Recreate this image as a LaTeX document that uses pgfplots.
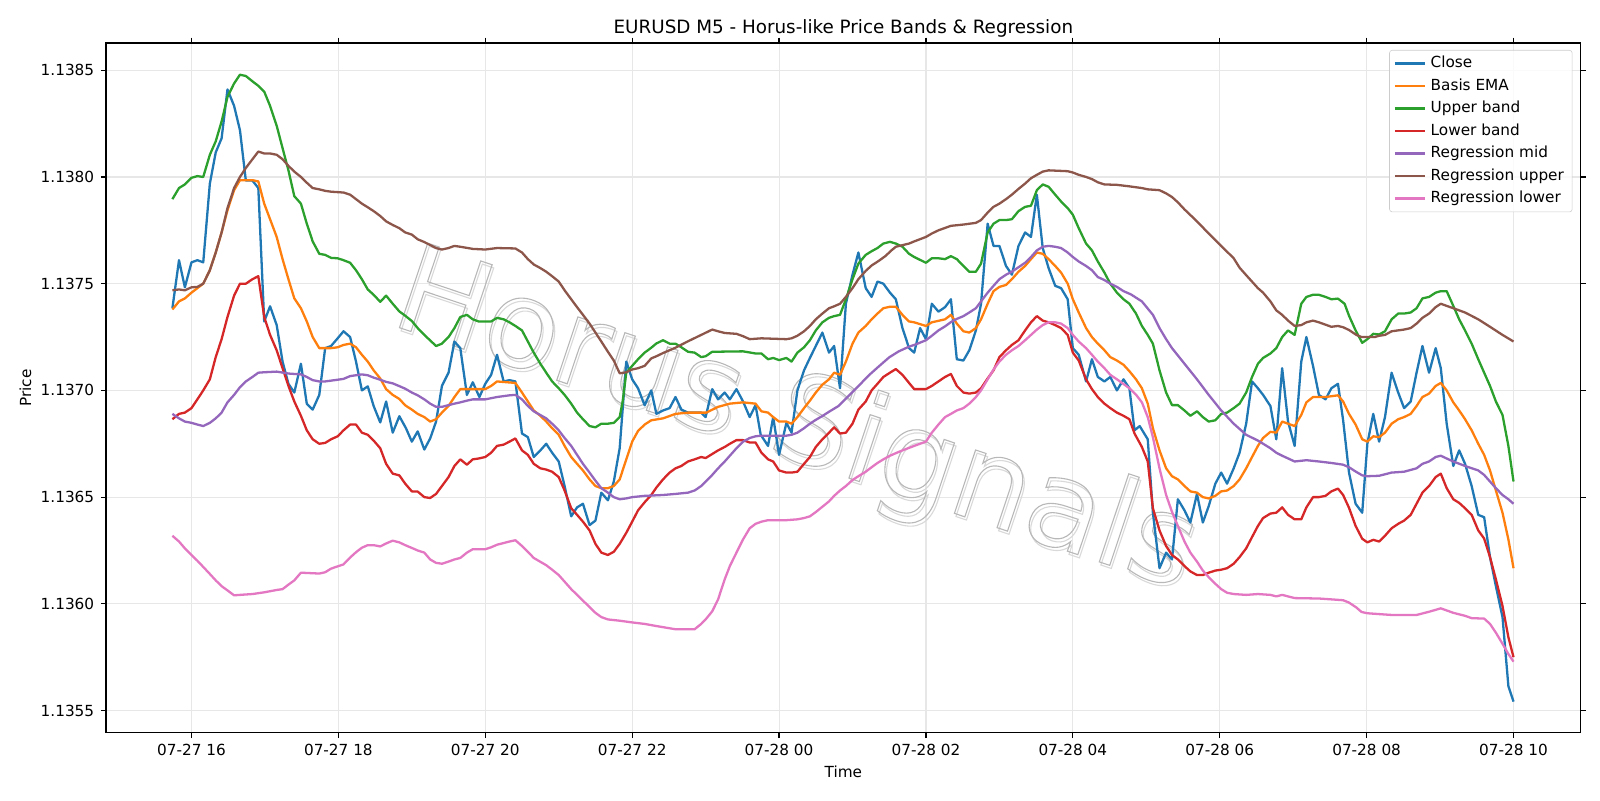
\documentclass[border=0pt]{standalone}
\usepackage{pgfplots}
\pgfplotsset{compat=1.18}
\usepackage{fontspec}
\setmainfont{DejaVu Sans}
\definecolor{c0}{HTML}{1F77B4}
\definecolor{c1}{HTML}{FF7F0E}
\definecolor{c2}{HTML}{2CA02C}
\definecolor{c3}{HTML}{D62728}
\definecolor{c4}{HTML}{9467BD}
\definecolor{c5}{HTML}{8C564B}
\definecolor{c6}{HTML}{E377C2}
\definecolor{gridc}{RGB}{231,231,231}
\definecolor{legc}{RGB}{204,204,204}
\definecolor{wm}{RGB}{185,185,185}
\definecolor{wms}{RGB}{218,218,218}
\newcommand\outl[2]{\special{pdf:literal direct 1 Tr 0.8 w #1 G}#2\special{pdf:literal direct 0 Tr 0 G}}
\begin{document}
\begin{tikzpicture}
\useasboundingbox (-76.4pt,-48.5pt) rectangle (1075.6pt,527.6pt);
\begin{axis}[
  scale only axis, width=1061.6pt, height=496.7pt,
  at={(0,0)}, anchor=south west,
  xmin=14.8375, xmax=34.9125, ymin=53.96, ymax=86.28,
  xtick={16,18,20,22,24,26,28,30,32,34},
  xticklabels={07-27 16,07-27 18,07-27 20,07-27 22,07-28 00,07-28 02,07-28 04,07-28 06,07-28 08,07-28 10},
  ytick={55,60,65,70,75,80,85},
  yticklabels={1.1355,1.1360,1.1365,1.1370,1.1375,1.1380,1.1385},
  tick label style={font=\fontsize{11}{13}\selectfont},
  xticklabel style={yshift=-0.8pt},
  yticklabel style={xshift=-1.2pt},
  tick align=outside, major tick length=3.85pt,
  tick style={black, line width=0.88pt},
  axis line style={line width=0.88pt},
  grid=major, major grid style={gridc, line width=0.8pt},
  title={EURUSD M5 - Horus-like Price Bands \& Regression},
  title style={font=\fontsize{13.2}{15}\selectfont, at={(rel axis cs:0.5,1)}, anchor=center, yshift=4.5pt},
  xlabel={Time}, ylabel={Price},
  label style={font=\fontsize{11}{13}\selectfont},
  xlabel style={at={(rel axis cs:0.5,0)}, anchor=center, yshift=-27.9pt},
  ylabel style={at={(rel axis cs:0,0.5)}, anchor=center, yshift=58pt},
  legend style={at={(1,1)}, anchor=north east, xshift=-5.8pt, yshift=-5.1pt,
    draw=legc, rounded corners=2pt, fill=white, fill opacity=0.8, text opacity=1,
    font=\fontsize{11}{13}\selectfont, inner xsep=3pt, inner ysep=1.5pt,
    nodes={inner ysep=2.75pt, inner xsep=3pt, text height=8.2pt, text depth=2.5pt}},
  legend cell align=left,
  legend image code/.code={\draw[#1] (0pt,0pt) -- (22pt,0pt);},
  every axis plot/.append style={line width=1.65pt, line join=round, no markers},
]
\node[rotate=-18.5, text=wms, font=\fontsize{88}{88}\selectfont, xshift=1.8pt, yshift=-1.8pt] at (axis cs:24.22,68.4) {\outl{0.85}{Horus Signals}};
\node[rotate=-18.5, text=wm, font=\fontsize{88}{88}\selectfont] at (axis cs:24.22,68.4) {\outl{0.72}{Horus Signals}};

\addplot[c0] coordinates {(15.74,73.85)(15.83,76.1)(15.91,74.83)(16.0,76.0)(16.08,76.1)(16.16,76.0)(16.25,79.69)(16.33,81.15)(16.41,81.81)(16.49,84.1)(16.58,83.33)(16.66,82.19)(16.74,79.83)(16.83,79.83)(16.91,79.48)(16.99,73.23)(17.07,73.94)(17.16,73.06)(17.24,71.35)(17.32,70.31)(17.4,69.9)(17.49,71.25)(17.57,69.37)(17.65,69.1)(17.74,69.79)(17.82,71.98)(17.9,72.08)(17.99,72.44)(18.07,72.77)(18.16,72.5)(18.24,71.35)(18.32,70.0)(18.4,70.19)(18.48,69.27)(18.57,68.5)(18.65,69.48)(18.74,68.02)(18.83,68.79)(18.92,68.23)(19.0,67.6)(19.08,68.08)(19.17,67.23)(19.25,67.75)(19.33,68.54)(19.41,70.21)(19.5,70.83)(19.58,72.29)(19.66,71.98)(19.75,69.79)(19.83,70.38)(19.92,69.69)(20.0,70.31)(20.08,70.73)(20.16,71.67)(20.25,70.42)(20.33,70.48)(20.41,70.42)(20.5,67.98)(20.58,67.81)(20.66,66.88)(20.75,67.19)(20.83,67.5)(20.91,67.08)(21.0,66.67)(21.08,65.52)(21.17,64.1)(21.25,64.52)(21.33,64.69)(21.42,63.69)(21.5,63.9)(21.58,65.21)(21.67,64.85)(21.75,65.73)(21.83,67.29)(21.92,71.35)(22.0,70.52)(22.08,70.1)(22.17,69.3)(22.26,70.0)(22.33,68.9)(22.42,69.06)(22.51,69.17)(22.59,69.69)(22.67,69.1)(22.76,68.96)(22.85,68.96)(22.94,68.96)(23.0,68.75)(23.09,70.06)(23.17,69.58)(23.26,69.9)(23.33,69.58)(23.42,70.06)(23.51,69.48)(23.6,68.75)(23.68,69.31)(23.75,67.92)(23.85,67.4)(23.92,68.75)(24.0,66.98)(24.1,68.48)(24.17,68.02)(24.25,70.0)(24.34,70.94)(24.42,71.52)(24.5,72.08)(24.59,72.71)(24.68,71.77)(24.75,72.08)(24.83,70.1)(24.91,74.06)(25.0,75.42)(25.08,76.46)(25.18,74.79)(25.26,74.38)(25.34,75.1)(25.42,75.0)(25.51,74.58)(25.59,74.27)(25.68,72.92)(25.77,71.98)(25.84,71.77)(25.92,72.92)(26.0,72.4)(26.08,74.06)(26.17,73.69)(26.26,73.9)(26.34,74.27)(26.42,71.46)(26.51,71.4)(26.59,71.88)(26.68,72.81)(26.75,74.06)(26.84,77.81)(26.92,76.77)(27.0,76.77)(27.09,75.83)(27.17,75.42)(27.26,76.77)(27.35,77.4)(27.43,77.19)(27.51,79.17)(27.59,76.67)(27.67,75.73)(27.76,74.9)(27.84,74.79)(27.93,74.27)(28.0,71.98)(28.08,71.67)(28.18,70.42)(28.26,71.46)(28.34,70.63)(28.43,70.42)(28.51,70.63)(28.6,70.0)(28.69,70.52)(28.77,70.1)(28.84,68.13)(28.91,68.33)(29.02,67.71)(29.09,64.27)(29.18,61.67)(29.27,62.4)(29.35,62.08)(29.43,64.9)(29.52,64.38)(29.6,63.81)(29.69,65.15)(29.77,63.81)(29.85,64.58)(29.94,65.63)(30.02,66.15)(30.1,65.63)(30.19,66.35)(30.27,67.08)(30.36,68.44)(30.44,70.42)(30.52,70.1)(30.59,69.79)(30.69,69.27)(30.77,67.71)(30.85,71.04)(30.93,68.54)(31.02,67.4)(31.11,71.35)(31.18,72.5)(31.27,71.15)(31.35,69.79)(31.44,69.58)(31.52,70.1)(31.61,70.31)(31.68,68.6)(31.76,66.15)(31.85,64.69)(31.94,64.27)(32.01,67.5)(32.09,68.9)(32.17,67.6)(32.25,68.75)(32.34,70.83)(32.43,69.9)(32.51,69.17)(32.6,69.48)(32.68,70.83)(32.76,72.08)(32.85,70.83)(32.94,71.98)(33.01,71.04)(33.09,68.44)(33.18,66.46)(33.26,67.19)(33.34,66.56)(33.43,65.52)(33.52,64.17)(33.6,64.06)(33.68,62.19)(33.76,60.83)(33.85,59.38)(33.93,56.15)(34.0,55.42)};
\addlegendentry{Close}

\addplot[c1] coordinates {(15.74,73.79)(15.83,74.17)(15.91,74.31)(16.0,74.58)(16.08,74.79)(16.16,75.0)(16.25,75.63)(16.33,76.46)(16.41,77.4)(16.49,78.44)(16.58,79.38)(16.66,79.85)(16.74,79.85)(16.83,79.85)(16.91,79.79)(16.99,78.75)(17.07,78.02)(17.16,77.19)(17.24,76.15)(17.32,75.21)(17.4,74.31)(17.49,73.85)(17.57,73.23)(17.65,72.5)(17.74,71.98)(17.82,71.98)(17.9,71.98)(17.99,72.02)(18.07,72.13)(18.16,72.19)(18.24,72.02)(18.32,71.67)(18.4,71.35)(18.48,70.94)(18.57,70.56)(18.65,70.06)(18.74,69.79)(18.83,69.6)(18.91,69.3)(19.0,69.1)(19.08,68.9)(19.17,68.75)(19.25,68.54)(19.33,68.65)(19.41,68.96)(19.5,69.27)(19.58,69.69)(19.66,70.06)(19.75,70.06)(20.0,70.06)(20.08,70.21)(20.16,70.42)(20.41,70.35)(20.5,69.9)(20.58,69.48)(20.66,69.06)(20.75,68.81)(20.83,68.54)(20.91,68.23)(21.0,67.92)(21.08,67.4)(21.17,66.88)(21.25,66.56)(21.33,66.25)(21.42,65.83)(21.5,65.52)(21.58,65.42)(21.67,65.42)(21.75,65.52)(21.83,65.83)(21.92,66.77)(22.0,67.6)(22.08,68.1)(22.17,68.4)(22.26,68.6)(22.42,68.69)(22.59,68.9)(22.76,68.96)(23.01,68.96)(23.17,69.23)(23.33,69.38)(23.51,69.44)(23.68,69.38)(23.76,69.02)(23.85,68.96)(23.92,68.75)(24.0,68.54)(24.1,68.54)(24.17,68.44)(24.25,68.75)(24.34,69.17)(24.42,69.52)(24.5,69.9)(24.59,70.27)(24.68,70.52)(24.75,70.83)(24.83,70.73)(24.91,71.35)(25.0,72.19)(25.08,72.71)(25.18,73.02)(25.26,73.33)(25.34,73.6)(25.42,73.85)(25.51,73.92)(25.59,73.92)(25.68,73.54)(25.77,73.23)(25.84,73.19)(26.0,73.02)(26.08,73.19)(26.26,73.33)(26.34,73.54)(26.42,73.13)(26.51,72.77)(26.59,72.71)(26.68,72.92)(26.75,73.33)(26.84,74.06)(26.92,74.65)(27.0,74.85)(27.09,74.94)(27.17,75.21)(27.26,75.56)(27.35,75.83)(27.43,76.15)(27.51,76.46)(27.59,76.4)(27.67,76.15)(27.76,75.83)(27.84,75.52)(27.93,75.0)(28.0,74.27)(28.08,73.65)(28.18,72.92)(28.26,72.5)(28.34,72.19)(28.43,71.88)(28.51,71.56)(28.6,71.4)(28.69,71.2)(28.77,70.9)(28.86,70.52)(28.94,70.1)(29.02,69.38)(29.09,68.23)(29.18,67.19)(29.27,66.35)(29.35,65.98)(29.43,65.83)(29.52,65.52)(29.6,65.27)(29.69,65.21)(29.77,65.0)(29.85,64.94)(29.94,65.06)(30.02,65.27)(30.1,65.31)(30.19,65.52)(30.27,65.83)(30.36,66.35)(30.44,66.88)(30.52,67.4)(30.59,67.77)(30.69,68.06)(30.77,68.02)(30.85,68.54)(30.93,68.44)(31.02,68.33)(31.11,68.85)(31.18,69.44)(31.27,69.69)(31.44,69.69)(31.61,69.77)(31.68,69.48)(31.76,68.9)(31.85,68.4)(31.94,67.71)(32.01,67.6)(32.09,67.85)(32.17,67.81)(32.25,68.02)(32.34,68.44)(32.43,68.65)(32.51,68.75)(32.6,68.9)(32.68,69.27)(32.76,69.69)(32.85,69.85)(32.94,70.21)(33.01,70.35)(33.09,70.0)(33.18,69.44)(33.26,69.06)(33.34,68.65)(33.43,68.13)(33.52,67.5)(33.6,66.98)(33.68,66.25)(33.76,65.31)(33.85,64.27)(33.93,63.02)(34.0,61.67)};
\addlegendentry{Basis EMA}

\addplot[c2] coordinates {(15.74,78.96)(15.83,79.48)(15.91,79.65)(16.0,79.96)(16.08,80.04)(16.16,80.0)(16.25,81.04)(16.33,81.67)(16.41,82.6)(16.49,83.75)(16.58,84.38)(16.66,84.79)(16.74,84.73)(16.83,84.48)(16.91,84.27)(16.99,84.0)(17.07,83.33)(17.16,82.4)(17.24,81.35)(17.32,80.31)(17.4,79.1)(17.49,78.75)(17.57,77.81)(17.65,76.98)(17.74,76.4)(17.82,76.35)(17.9,76.21)(17.99,76.19)(18.07,76.1)(18.16,75.98)(18.24,75.63)(18.32,75.21)(18.4,74.73)(18.48,74.48)(18.57,74.15)(18.65,74.44)(18.74,74.06)(18.83,73.7)(18.91,73.5)(19.0,73.25)(19.08,72.92)(19.17,72.6)(19.33,72.08)(19.41,72.19)(19.5,72.5)(19.58,72.92)(19.66,73.44)(19.75,73.54)(19.83,73.33)(19.91,73.23)(20.08,73.23)(20.16,73.4)(20.25,73.33)(20.33,73.19)(20.41,73.02)(20.5,72.81)(20.58,72.29)(20.66,71.77)(20.75,71.25)(20.83,70.83)(20.91,70.42)(21.0,70.1)(21.08,69.79)(21.17,69.38)(21.25,68.96)(21.33,68.65)(21.42,68.33)(21.5,68.27)(21.58,68.44)(21.67,68.44)(21.75,68.48)(21.83,68.75)(21.87,69.48)(21.92,70.83)(22.0,71.15)(22.08,71.46)(22.17,71.77)(22.26,72.0)(22.33,72.2)(22.42,72.35)(22.51,72.19)(22.59,72.19)(22.67,72.02)(22.76,71.81)(22.85,71.77)(22.94,71.56)(23.0,71.6)(23.09,71.81)(23.51,71.83)(23.68,71.73)(23.76,71.73)(23.85,71.46)(23.92,71.52)(24.0,71.42)(24.1,71.52)(24.17,71.35)(24.25,71.77)(24.34,72.02)(24.42,72.35)(24.5,72.81)(24.59,73.19)(24.68,73.4)(24.75,73.48)(24.83,73.54)(24.91,74.27)(25.0,75.21)(25.08,75.94)(25.18,76.35)(25.26,76.52)(25.34,76.67)(25.42,76.88)(25.51,76.96)(25.59,76.88)(25.68,76.73)(25.77,76.4)(25.84,76.25)(26.0,75.98)(26.08,76.19)(26.17,76.19)(26.26,76.15)(26.34,76.29)(26.42,76.15)(26.51,75.83)(26.59,75.56)(26.68,75.56)(26.75,75.94)(26.84,77.4)(26.92,77.81)(27.0,77.98)(27.09,77.98)(27.17,78.02)(27.26,78.4)(27.35,78.6)(27.43,78.65)(27.51,79.38)(27.59,79.65)(27.67,79.54)(27.76,79.17)(27.84,78.85)(27.93,78.54)(28.0,78.23)(28.08,77.6)(28.18,76.88)(28.26,76.56)(28.34,76.04)(28.43,75.52)(28.51,75.0)(28.6,74.58)(28.69,74.27)(28.77,74.06)(28.86,73.6)(28.94,73.02)(29.02,72.6)(29.09,72.19)(29.18,70.94)(29.27,69.9)(29.35,69.31)(29.43,69.31)(29.52,69.06)(29.6,68.81)(29.69,69.02)(29.77,68.75)(29.85,68.54)(29.94,68.6)(30.02,68.9)(30.1,68.96)(30.19,69.17)(30.27,69.38)(30.36,69.9)(30.44,70.63)(30.52,71.25)(30.59,71.52)(30.69,71.73)(30.77,71.98)(30.85,72.5)(30.93,72.81)(31.02,72.6)(31.11,74.06)(31.18,74.38)(31.27,74.48)(31.35,74.48)(31.44,74.38)(31.52,74.27)(31.61,74.3)(31.7,74.06)(31.76,73.5)(31.85,72.81)(31.94,72.23)(32.01,72.4)(32.09,72.65)(32.17,72.62)(32.25,72.77)(32.34,73.33)(32.43,73.6)(32.51,73.6)(32.6,73.65)(32.68,73.85)(32.76,74.31)(32.85,74.38)(32.94,74.58)(33.01,74.65)(33.09,74.65)(33.18,73.96)(33.26,73.33)(33.34,72.81)(33.43,72.19)(33.52,71.46)(33.6,70.83)(33.68,70.21)(33.76,69.48)(33.85,68.85)(33.93,67.4)(34.0,65.73)};
\addlegendentry{Upper band}

\addplot[c3] coordinates {(15.74,68.65)(15.83,68.9)(15.91,68.96)(16.0,69.17)(16.08,69.58)(16.16,70.0)(16.25,70.52)(16.33,71.56)(16.41,72.4)(16.49,73.44)(16.58,74.44)(16.66,75.0)(16.74,75.0)(16.83,75.21)(16.91,75.35)(16.99,73.44)(17.07,72.6)(17.16,71.88)(17.24,71.04)(17.32,70.21)(17.4,69.48)(17.49,68.81)(17.57,68.13)(17.65,67.71)(17.74,67.5)(17.82,67.54)(17.9,67.71)(17.99,67.85)(18.07,68.13)(18.16,68.4)(18.24,68.4)(18.32,68.02)(18.4,67.92)(18.48,67.65)(18.57,67.29)(18.65,66.56)(18.74,66.1)(18.83,66.02)(18.91,65.63)(19.0,65.27)(19.08,65.26)(19.17,65.0)(19.25,64.96)(19.33,65.15)(19.41,65.52)(19.5,65.94)(19.58,66.46)(19.66,66.77)(19.75,66.52)(19.83,66.77)(19.91,66.81)(20.0,66.88)(20.08,67.08)(20.16,67.4)(20.25,67.46)(20.33,67.6)(20.41,67.75)(20.5,67.19)(20.58,66.98)(20.66,66.56)(20.75,66.35)(20.83,66.29)(20.91,66.19)(21.0,65.94)(21.08,65.31)(21.17,64.48)(21.25,64.17)(21.33,63.85)(21.42,63.44)(21.5,62.81)(21.58,62.4)(21.67,62.29)(21.75,62.44)(21.83,62.81)(21.92,63.33)(22.0,63.85)(22.08,64.38)(22.17,64.76)(22.26,65.1)(22.33,65.45)(22.42,65.83)(22.51,66.15)(22.59,66.35)(22.67,66.46)(22.76,66.67)(22.85,66.77)(22.94,66.88)(23.0,66.83)(23.09,67.02)(23.17,67.19)(23.26,67.35)(23.33,67.5)(23.42,67.67)(23.51,67.67)(23.6,67.56)(23.68,67.56)(23.76,67.08)(23.85,66.77)(23.92,66.67)(24.0,66.25)(24.1,66.15)(24.17,66.15)(24.25,66.19)(24.34,66.56)(24.42,66.88)(24.5,67.35)(24.59,67.71)(24.68,68.02)(24.75,68.27)(24.83,67.98)(24.91,68.02)(25.0,68.44)(25.08,69.1)(25.18,69.48)(25.26,70.0)(25.34,70.31)(25.42,70.63)(25.51,70.83)(25.59,71.0)(25.68,70.73)(25.77,70.35)(25.84,70.06)(26.0,70.06)(26.08,70.21)(26.17,70.42)(26.26,70.63)(26.34,70.77)(26.42,70.21)(26.51,69.9)(26.59,69.85)(26.68,69.9)(26.75,70.1)(26.84,70.56)(26.92,70.94)(27.0,71.56)(27.09,71.88)(27.17,72.13)(27.26,72.35)(27.35,72.81)(27.43,73.19)(27.51,73.48)(27.59,73.27)(27.67,73.19)(27.76,73.06)(27.84,72.92)(27.93,72.6)(28.0,71.77)(28.08,71.4)(28.18,70.52)(28.26,70.06)(28.34,69.69)(28.43,69.38)(28.51,69.17)(28.6,68.96)(28.69,68.81)(28.77,68.65)(28.84,67.98)(28.94,67.35)(29.02,66.67)(29.09,64.48)(29.18,63.44)(29.27,62.71)(29.35,62.29)(29.43,62.08)(29.52,61.77)(29.6,61.52)(29.69,61.35)(29.77,61.35)(29.85,61.46)(29.94,61.56)(30.02,61.6)(30.1,61.67)(30.19,61.88)(30.27,62.19)(30.36,62.6)(30.44,63.13)(30.52,63.65)(30.59,64.02)(30.69,64.23)(30.77,64.27)(30.85,64.52)(30.93,64.17)(31.02,63.96)(31.11,63.96)(31.18,64.52)(31.27,65.0)(31.35,65.0)(31.44,65.06)(31.52,65.27)(31.61,65.4)(31.68,65.1)(31.76,64.5)(31.85,63.65)(31.94,63.05)(32.01,62.88)(32.09,63.0)(32.17,62.92)(32.25,63.19)(32.34,63.54)(32.43,63.75)(32.51,63.9)(32.6,64.17)(32.68,64.69)(32.76,65.21)(32.85,65.52)(32.94,65.94)(33.01,66.1)(33.09,65.42)(33.18,64.9)(33.26,64.73)(33.34,64.48)(33.43,64.17)(33.52,63.44)(33.6,63.06)(33.68,62.19)(33.76,61.15)(33.85,59.9)(33.93,58.44)(34.0,57.5)};
\addlegendentry{Lower band}

\addplot[c4] coordinates {(15.74,68.9)(15.83,68.69)(15.91,68.54)(16.0,68.48)(16.08,68.4)(16.16,68.33)(16.25,68.48)(16.33,68.69)(16.41,68.96)(16.49,69.44)(16.58,69.79)(16.66,70.15)(16.74,70.42)(16.83,70.63)(16.91,70.83)(16.99,70.85)(17.16,70.88)(17.32,70.79)(17.49,70.75)(17.57,70.63)(17.65,70.48)(17.74,70.42)(17.82,70.42)(17.99,70.5)(18.07,70.54)(18.16,70.67)(18.32,70.75)(18.4,70.71)(18.48,70.6)(18.57,70.5)(18.65,70.4)(18.74,70.33)(18.83,70.2)(18.91,70.08)(19.0,69.9)(19.08,69.77)(19.17,69.58)(19.25,69.38)(19.33,69.23)(19.41,69.23)(19.5,69.31)(19.58,69.38)(19.66,69.44)(19.75,69.52)(19.83,69.58)(20.0,69.58)(20.16,69.69)(20.33,69.77)(20.41,69.79)(20.5,69.58)(20.58,69.27)(20.66,69.02)(20.83,68.69)(20.91,68.44)(21.0,68.13)(21.08,67.77)(21.17,67.4)(21.25,66.98)(21.33,66.56)(21.42,66.15)(21.5,65.77)(21.58,65.42)(21.67,65.21)(21.75,65.0)(21.83,64.9)(21.92,64.94)(22.0,65.0)(22.17,65.06)(22.42,65.1)(22.59,65.15)(22.76,65.21)(22.85,65.31)(22.94,65.52)(23.0,65.73)(23.09,66.04)(23.17,66.35)(23.26,66.67)(23.33,66.94)(23.42,67.29)(23.51,67.6)(23.6,67.77)(23.68,67.85)(23.76,67.88)(24.1,67.88)(24.17,67.92)(24.25,68.02)(24.34,68.23)(24.42,68.44)(24.5,68.62)(24.59,68.8)(24.68,69.0)(24.81,69.27)(24.95,69.75)(25.08,70.2)(25.22,70.7)(25.36,71.13)(25.5,71.55)(25.63,71.83)(25.77,72.05)(25.85,72.14)(26.0,72.35)(26.08,72.56)(26.17,72.81)(26.26,73.0)(26.34,73.2)(26.42,73.35)(26.51,73.48)(26.59,73.65)(26.68,73.85)(26.75,74.17)(26.84,74.58)(26.92,74.9)(27.0,75.21)(27.09,75.42)(27.17,75.56)(27.26,75.77)(27.35,75.98)(27.43,76.25)(27.51,76.56)(27.59,76.73)(27.67,76.77)(27.76,76.73)(27.84,76.67)(27.93,76.46)(28.0,76.25)(28.08,76.04)(28.18,75.83)(28.26,75.63)(28.34,75.31)(28.43,75.17)(28.51,75.0)(28.6,74.85)(28.69,74.65)(28.79,74.5)(28.94,74.17)(29.09,73.54)(29.18,72.92)(29.27,72.4)(29.35,71.98)(29.52,71.25)(29.69,70.52)(29.85,69.79)(30.02,69.06)(30.19,68.44)(30.36,67.92)(30.52,67.65)(30.69,67.29)(30.77,67.08)(30.85,66.94)(31.02,66.67)(31.18,66.73)(31.35,66.67)(31.52,66.6)(31.68,66.52)(31.76,66.4)(31.85,66.2)(31.94,66.02)(32.01,65.98)(32.17,66.0)(32.34,66.15)(32.51,66.19)(32.68,66.35)(32.76,66.56)(32.85,66.67)(32.94,66.88)(33.01,66.94)(33.09,66.81)(33.18,66.67)(33.34,66.46)(33.52,66.25)(33.6,66.04)(33.68,65.73)(33.76,65.42)(33.85,65.1)(33.93,64.9)(34.0,64.69)};
\addlegendentry{Regression mid}

\addplot[c5] coordinates {(15.74,74.69)(15.83,74.73)(15.91,74.69)(16.0,74.83)(16.08,74.85)(16.16,75.0)(16.25,75.63)(16.33,76.46)(16.41,77.4)(16.49,78.54)(16.58,79.48)(16.66,80.0)(16.74,80.42)(16.83,80.83)(16.91,81.19)(16.99,81.1)(17.07,81.1)(17.16,81.04)(17.24,80.83)(17.32,80.52)(17.4,80.25)(17.49,80.0)(17.57,79.73)(17.65,79.48)(17.74,79.42)(17.82,79.35)(17.9,79.31)(18.07,79.27)(18.16,79.17)(18.24,78.96)(18.32,78.75)(18.4,78.58)(18.48,78.4)(18.57,78.17)(18.65,77.92)(18.74,77.75)(18.83,77.6)(18.91,77.4)(19.0,77.3)(19.08,77.08)(19.17,76.95)(19.25,76.81)(19.33,76.67)(19.41,76.6)(19.5,76.67)(19.58,76.77)(19.66,76.73)(19.83,76.63)(20.0,76.6)(20.16,76.67)(20.41,76.65)(20.5,76.46)(20.58,76.15)(20.66,75.9)(20.75,75.73)(20.83,75.56)(20.91,75.35)(21.0,75.1)(21.08,74.69)(21.17,74.27)(21.25,73.9)(21.33,73.54)(21.42,73.13)(21.5,72.71)(21.58,72.29)(21.67,71.81)(21.75,71.4)(21.83,70.8)(21.92,70.85)(22.0,70.98)(22.08,71.04)(22.17,71.15)(22.26,71.5)(22.33,71.6)(22.42,71.75)(22.59,72.0)(22.76,72.3)(22.94,72.6)(23.09,72.85)(23.17,72.77)(23.26,72.69)(23.42,72.65)(23.51,72.54)(23.6,72.4)(23.76,72.44)(24.1,72.4)(24.17,72.44)(24.25,72.56)(24.34,72.77)(24.42,73.02)(24.5,73.33)(24.59,73.6)(24.68,73.85)(24.75,73.94)(24.83,74.06)(24.91,74.38)(25.0,74.79)(25.08,75.21)(25.18,75.6)(25.26,75.85)(25.37,76.1)(25.45,76.3)(25.53,76.56)(25.59,76.73)(25.77,76.88)(25.84,76.98)(26.0,77.19)(26.08,77.35)(26.17,77.5)(26.34,77.71)(26.51,77.77)(26.68,77.85)(26.75,77.98)(26.84,78.33)(26.92,78.6)(27.0,78.75)(27.09,78.96)(27.17,79.17)(27.26,79.44)(27.35,79.69)(27.43,79.94)(27.51,80.1)(27.59,80.25)(27.67,80.31)(27.93,80.27)(28.0,80.21)(28.08,80.1)(28.18,80.0)(28.26,79.9)(28.34,79.75)(28.43,79.65)(28.6,79.63)(28.77,79.56)(28.94,79.48)(29.02,79.42)(29.18,79.38)(29.27,79.23)(29.35,79.06)(29.43,78.81)(29.52,78.48)(29.69,77.92)(29.85,77.35)(30.02,76.77)(30.19,76.19)(30.27,75.75)(30.36,75.4)(30.52,74.79)(30.59,74.58)(30.69,74.17)(30.77,73.75)(30.85,73.54)(30.93,73.27)(31.02,73.02)(31.11,73.06)(31.18,73.19)(31.27,73.27)(31.35,73.19)(31.44,73.08)(31.52,72.98)(31.61,73.02)(31.68,72.96)(31.76,72.83)(31.86,72.6)(31.93,72.5)(32.11,72.5)(32.17,72.56)(32.25,72.6)(32.34,72.77)(32.51,72.85)(32.6,72.92)(32.68,73.13)(32.76,73.4)(32.85,73.6)(32.94,73.9)(33.01,74.06)(33.09,73.96)(33.18,73.85)(33.34,73.65)(33.52,73.33)(33.68,72.98)(33.85,72.6)(34.0,72.29)};
\addlegendentry{Regression upper}

\addplot[c6] coordinates {(15.74,63.19)(15.83,62.92)(15.91,62.6)(16.0,62.29)(16.08,62.02)(16.16,61.73)(16.25,61.4)(16.33,61.1)(16.41,60.83)(16.49,60.63)(16.58,60.4)(16.66,60.42)(16.83,60.46)(16.99,60.54)(17.16,60.65)(17.24,60.69)(17.32,60.9)(17.4,61.1)(17.49,61.46)(17.74,61.42)(17.82,61.48)(17.9,61.65)(18.07,61.85)(18.16,62.17)(18.24,62.42)(18.32,62.63)(18.4,62.75)(18.48,62.75)(18.57,62.69)(18.65,62.83)(18.74,62.96)(18.83,62.88)(18.91,62.75)(19.0,62.62)(19.08,62.5)(19.17,62.4)(19.25,62.08)(19.33,61.92)(19.41,61.88)(19.5,61.98)(19.58,62.08)(19.66,62.15)(19.75,62.4)(19.83,62.56)(20.0,62.56)(20.08,62.65)(20.16,62.77)(20.33,62.92)(20.41,62.98)(20.5,62.71)(20.58,62.44)(20.66,62.15)(20.83,61.81)(20.91,61.6)(21.0,61.35)(21.08,61.04)(21.17,60.69)(21.25,60.42)(21.33,60.15)(21.42,59.85)(21.5,59.58)(21.58,59.38)(21.67,59.27)(21.83,59.21)(22.0,59.13)(22.17,59.06)(22.33,58.96)(22.59,58.81)(22.85,58.81)(22.94,59.06)(23.0,59.27)(23.09,59.65)(23.17,60.21)(23.26,61.15)(23.33,61.77)(23.42,62.4)(23.51,63.02)(23.6,63.54)(23.68,63.75)(23.76,63.85)(23.85,63.92)(24.1,63.92)(24.25,63.96)(24.34,64.02)(24.42,64.1)(24.5,64.3)(24.59,64.55)(24.68,64.8)(24.75,65.06)(24.83,65.31)(24.91,65.52)(25.0,65.8)(25.08,65.98)(25.18,66.19)(25.26,66.4)(25.34,66.6)(25.42,66.77)(25.51,66.94)(25.59,67.06)(25.68,67.19)(25.84,67.4)(26.0,67.6)(26.08,68.02)(26.17,68.4)(26.26,68.75)(26.34,68.9)(26.42,69.06)(26.51,69.17)(26.59,69.38)(26.68,69.69)(26.75,70.0)(26.84,70.52)(26.92,70.98)(27.0,71.35)(27.09,71.67)(27.17,71.88)(27.26,72.08)(27.35,72.35)(27.43,72.6)(27.51,72.85)(27.59,73.06)(27.67,73.19)(27.76,73.19)(27.84,73.13)(27.93,72.92)(28.0,72.6)(28.08,72.29)(28.18,71.98)(28.26,71.67)(28.34,71.35)(28.43,71.04)(28.51,70.73)(28.6,70.52)(28.69,70.3)(28.77,70.1)(28.86,69.8)(28.94,69.44)(29.02,68.75)(29.09,67.81)(29.18,66.35)(29.27,65.1)(29.35,64.31)(29.43,63.65)(29.52,62.92)(29.6,62.4)(29.69,61.98)(29.77,61.56)(29.85,61.25)(29.94,60.94)(30.02,60.69)(30.1,60.52)(30.19,60.46)(30.36,60.42)(30.52,60.46)(30.69,60.42)(30.77,60.35)(30.85,60.42)(31.02,60.27)(31.35,60.25)(31.52,60.21)(31.68,60.17)(31.76,60.06)(31.86,59.83)(31.93,59.62)(32.01,59.56)(32.17,59.52)(32.34,59.48)(32.68,59.48)(32.85,59.63)(33.01,59.79)(33.18,59.58)(33.34,59.44)(33.43,59.33)(33.6,59.31)(33.68,59.06)(33.76,58.65)(33.85,58.13)(33.93,57.65)(34.0,57.29)};
\addlegendentry{Regression lower}
\end{axis}
\end{tikzpicture}
\end{document}
